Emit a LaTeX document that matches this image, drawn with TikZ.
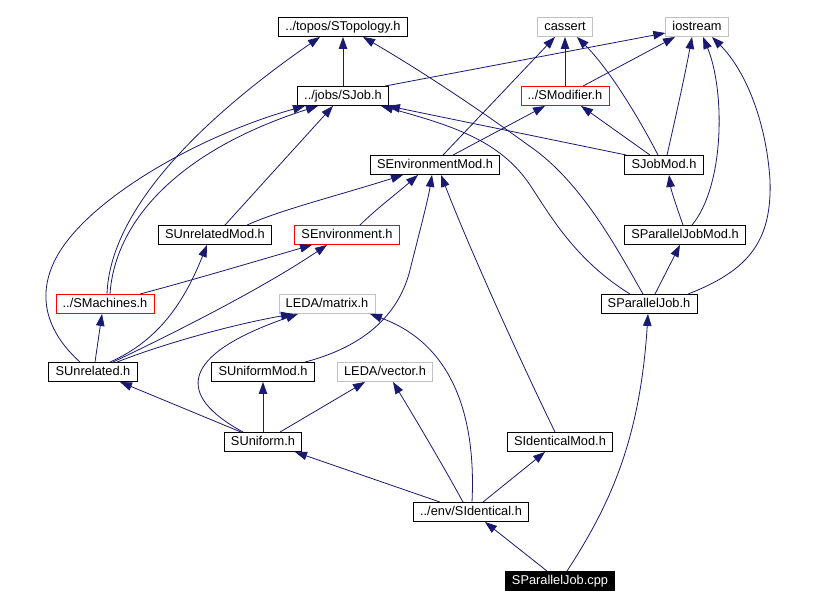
\documentclass[tikz,border=0pt]{standalone}
\usepackage{fontspec}
\setmainfont{Liberation Sans}
\usetikzlibrary{arrows.meta}
\definecolor{edgeblue}{RGB}{25,25,112}
\definecolor{boxgray}{RGB}{192,192,192}
\tikzset{
  box/.style={draw=black, line width=0.9pt, fill=white, rectangle, inner xsep=6.7pt, inner ysep=3.5pt,
    text height=9.3pt, text depth=2.7pt, font=\fontsize{12.8}{14}\selectfont},
  graybox/.style={box, draw=boxgray},
  redbox/.style={box, draw=red},
  mainbox/.style={box, fill=black, text=white},
  edge/.style={draw=edgeblue, line width=0.8pt, -{Triangle[length=12pt,width=8.5pt]}},
}
\begin{document}
\begin{tikzpicture}[x=1pt,y=-1pt]
\useasboundingbox[fill=white] (0,0) rectangle (816,609);
% nodes
\node[box] (STopology) at (343,27) {../topos/STopology.h};
\node[graybox] (cassert) at (565,27) {cassert};
\node[graybox] (iostream) at (697,27) {iostream};
\node[box] (SJob) at (343,96) {../jobs/SJob.h};
\node[redbox] (SModifier) at (565,96) {../SModifier.h};
\node[box] (SEnvMod) at (435,165) {SEnvironmentMod.h};
\node[box] (SJobMod) at (664,165) {SJobMod.h};
\node[box] (SUnrelatedMod) at (215,235) {SUnrelatedMod.h};
\node[redbox] (SEnvironment) at (347,235) {SEnvironment.h};
\node[box] (SPJMod) at (685,235) {SParallelJobMod.h};
\node[redbox] (SMachines) at (105,304) {../SMachines.h};
\node[graybox] (matrix) at (327,304) {LEDA/matrix.h};
\node[box] (SPJ) at (649,304) {SParallelJob.h};
\node[box] (SUnrelated) at (93,372) {SUnrelated.h};
\node[box] (SUniformMod) at (263,372) {SUniformMod.h};
\node[graybox] (vector) at (385,372) {LEDA/vector.h};
\node[box] (SUniform) at (263,442) {SUniform.h};
\node[box] (SIdenticalMod) at (560,442) {SIdenticalMod.h};
\node[box] (SIdentical) at (471,512) {../env/SIdentical.h};
\node[mainbox] (cpp) at (560,581) {SParallelJob.cpp};
% edges
\draw[edge] (SJob.north) -- (STopology.south);
\draw[edge] ([xshift=42pt]SJob.north) -- ([yshift=-6pt]iostream.west);
\draw[edge] (SModifier.north) -- (cassert.south);
\draw[edge] ([xshift=18pt]SModifier.north) -- ([xshift=-22pt]iostream.south);
\draw[edge] ([xshift=8pt]SEnvMod.north) -- ([xshift=-10pt]cassert.south);
\draw[edge] ([xshift=18pt]SEnvMod.north) -- ([xshift=-20pt]SModifier.south);
\draw[edge] ([xshift=-6pt]SJobMod.north) .. controls (640,120) and (610,70) .. ([xshift=12pt]cassert.south);
\draw[edge] ([xshift=3pt]SJobMod.north) .. controls (675,120) and (685,75) .. ([xshift=-5pt]iostream.south);
\draw[edge] ([xshift=-14pt]SJobMod.north) -- ([xshift=16pt]SModifier.south);
\draw[edge] ([xshift=2pt]SJobMod.north west) -- ([xshift=-1pt]SJob.south east);
\draw[edge] ([xshift=7pt]SPJMod.north) .. controls (725,185) and (725,90) .. ([xshift=6pt]iostream.south);
\draw[edge] ([xshift=-2pt]SPJMod.north) .. controls (676,205) and (671,190) .. ([xshift=5pt]SJobMod.south);
\draw[edge] ([xshift=6pt]SPJ.north) -- ([xshift=-5pt]SPJMod.south);
\draw[edge] ([xshift=39pt]SPJ.north) .. controls (750,270) and (772,240) .. (770,180) .. controls (766,120) and (745,70) .. ([xshift=15pt]iostream.south);
\draw[edge] ([xshift=-19pt]SPJ.north) .. controls (575,260) and (550,215) .. (530,185) .. controls (500,140) and (450,125) .. ([xshift=38pt]SJob.south);
\draw[edge] ([xshift=-6pt]SPJ.north) .. controls (615,245) and (580,180) .. (528,145) .. controls (480,110) and (420,70) .. ([xshift=20pt]STopology.south);
\draw[edge] ([xshift=13pt]SEnvironment.north) .. controls (375,210) and (395,195) .. ([xshift=-17pt]SEnvMod.south);
\draw[edge] ([xshift=32pt]SUnrelatedMod.north) .. controls (280,210) and (340,195) .. ([xshift=-32pt]SEnvMod.south);
\draw[edge] ([xshift=10pt]SUnrelatedMod.north) -- ([xshift=-10pt]SJob.south);
\draw[edge] ([xshift=5pt]SMachines.north) .. controls (115,220) and (180,150) .. ([xshift=-25pt]SJob.south);
\draw[edge] ([xshift=2pt]SMachines.north) .. controls (110,210) and (200,120) .. ([xshift=-23pt]STopology.south);
\draw[edge] ([xshift=35pt]SMachines.north) .. controls (200,278) and (260,260) .. ([xshift=-35pt]SEnvironment.south);
\draw[edge] ([xshift=2pt]SUnrelated.north) -- ([xshift=-3pt]SMachines.south);
\draw[edge] ([xshift=17pt]SUnrelated.north) .. controls (160,340) and (185,300) .. ([xshift=-8pt]SUnrelatedMod.south);
\draw[edge] ([xshift=20pt]SUnrelated.north) .. controls (170,335) and (260,290) .. ([xshift=-20pt]SEnvironment.south);
\draw[edge] ([xshift=24pt]SUnrelated.north) .. controls (160,345) and (230,325) .. ([xshift=-34pt]matrix.south);
\draw[edge] ([xshift=-13pt]SUnrelated.north) .. controls (50,335) and (35,300) .. (55,260) .. controls (85,200) and (200,135) .. ([xshift=-38pt]SJob.south);
\draw[edge] ([xshift=42pt]SUniformMod.north) .. controls (370,345) and (400,310) .. (410,270) .. controls (420,230) and (428,200) .. ([xshift=-3pt]SEnvMod.south);
\draw[edge] ([xshift=-22pt]SUniform.north) -- ([xshift=27pt]SUnrelated.south);
\draw[edge] (SUniform.north) -- (SUniformMod.south);
\draw[edge] ([xshift=17pt]SUniform.north) -- ([xshift=-20pt]vector.south);
\draw[edge] ([xshift=-20pt]SUniform.north) .. controls (175,395) and (180,355) .. ([xshift=-29pt]matrix.south);
\draw[edge] ([xshift=-5pt]SIdenticalMod.north) .. controls (520,360) and (470,250) .. ([xshift=6pt]SEnvMod.south);
\draw[edge] ([xshift=-31pt]SIdentical.north) -- ([xshift=32pt]SUniform.south);
\draw[edge] ([xshift=-8pt]SIdentical.north) .. controls (440,460) and (410,410) .. ([xshift=8pt]vector.south);
\draw[edge] ([xshift=1pt]SIdentical.north) .. controls (476,420) and (455,345) .. ([xshift=43pt]matrix.south);
\draw[edge] ([xshift=12pt]SIdentical.north) -- ([xshift=-15pt]SIdenticalMod.south);
\draw[edge] ([xshift=-13pt]cpp.north) -- ([xshift=14pt]SIdentical.south);
\draw[edge] ([xshift=7pt]cpp.north) .. controls (610,505) and (640,440) .. ([xshift=-1pt]SPJ.south);
\end{tikzpicture}
\end{document}
